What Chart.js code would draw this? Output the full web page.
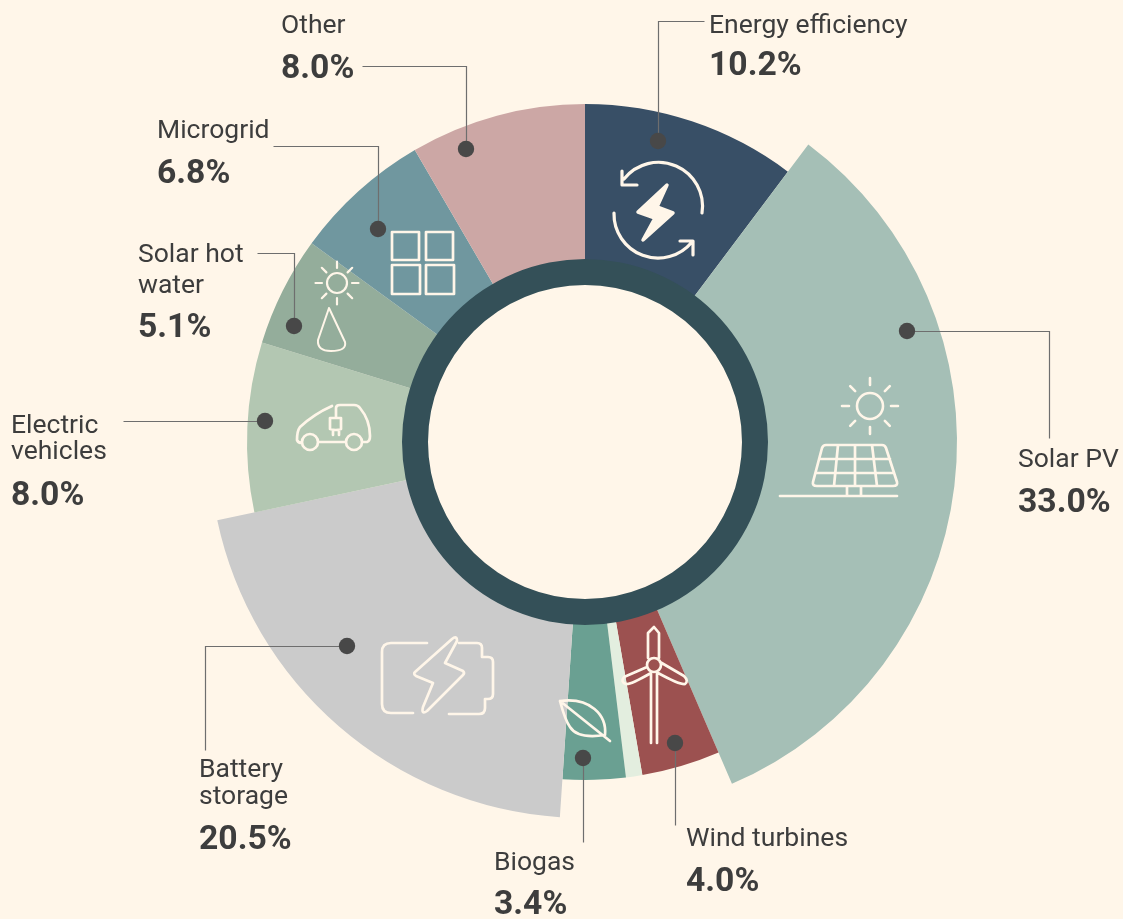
<!DOCTYPE html>
<html>
<head>
<meta charset="utf-8">
<title>Renewable energy share</title>
<script src="https://cdn.jsdelivr.net/npm/chart.js@4"></script>
<style>
  html, body { margin: 0; padding: 0; background: #FFF6E9; }
  #wrap { position: relative; width: 1123px; height: 919px; }
</style>
</head>
<body>
<div id="wrap"><canvas id="myChart" width="1123" height="919"></canvas></div>
<script>
const categories = ['Energy efficiency', 'Solar PV', 'Wind turbines', 'Unlabelled', 'Biogas', 'Battery storage', 'Electric vehicles', 'Solar hot water', 'Microgrid', 'Other']
// the printed percentages
const shares = [10.2, 33.0, 4.0, 1.1, 3.4, 20.5, 8.0, 5.1, 6.8, 8.0]
// slice sizes as measured on the picture, they differ a bit from the printed ones
const sliceSizes = [10.25, 33.3, 3.75, 0.78, 3.0, 20.6, 8.1, 5.25, 6.6, 8.4]
const ringValues = [100]

const colors = ['#384F66', '#A5BFB6', '#9C5150', '#E3EEDF', '#6AA092', '#CBCBCB', '#B3C7B2', '#94AD9B', '#70979F', '#CCA7A5']
const outerRadii = [338, 372, 338, 338, 338, 376, 338, 338, 338, 338]

const cream = '#FFF6E9'
const textColor = '#3D3D3D'

const labelLayout = {
  'Energy efficiency': { x: 709, lines: [['Energy efficiency', 33]], valueY: 75 },
  'Solar PV': { x: 1018, lines: [['Solar PV', 467]], valueY: 512 },
  'Wind turbines': { x: 686, lines: [['Wind turbines', 846]], valueY: 891 },
  'Biogas': { x: 494, lines: [['Biogas', 870]], valueY: 914 },
  'Battery storage': { x: 199, lines: [['Battery', 777], ['storage', 804]], valueY: 849 },
  'Electric vehicles': { x: 11, lines: [['Electric', 433], ['vehicles', 459]], valueY: 505 },
  'Solar hot water': { x: 138, lines: [['Solar hot', 262], ['water', 293]], valueY: 337 },
  'Microgrid': { x: 157, lines: [['Microgrid', 138]], valueY: 183 },
  'Other': { x: 281, lines: [['Other', 33]], valueY: 78 }
}

// leader lines, dot is the first point
const leaders = [
  [[658, 141], [658, 21], [704, 21]],
  [[907, 331], [1049, 331], [1049, 438]],
  [[675, 743], [675, 825]],
  [[583, 758], [583, 842]],
  [[347, 646], [205, 646], [205, 750]],
  [[265, 421], [123, 421]],
  [[294, 326], [294, 253], [257, 253]],
  [[378, 229], [378, 146], [273, 146]],
  [[466, 149], [466, 66], [362, 66]]
]

function circle(cx, cy, r) {
  return `M${cx - r} ${cy}a${r} ${r} 0 1 0 ${2 * r} 0a${r} ${r} 0 1 0 ${-2 * r} 0`
}
function sun(cx, cy, r, r1, r2) {
  let d = circle(cx, cy, r)
  for (let i = 0; i < 8; i++) {
    const a = i * Math.PI / 4
    d += `M${cx + r1 * Math.cos(a)} ${cy + r1 * Math.sin(a)}L${cx + r2 * Math.cos(a)} ${cy + r2 * Math.sin(a)}`
  }
  return d
}

const icons = [
  // energy efficiency
  { w: 3.2, d: 'M624 179A44 44 0 0 1 702 213M622 171V185H637M614 213A44 44 0 0 0 692 242M680 241H693V255' },
  { w: 3.5, fill: true, d: 'M667 185L638 212L655 218L643 240L673 213L657 207Z' },
  // solar pv
  { w: 2.6, d: sun(870, 406, 13, 21, 28) },
  { w: 2.7, d: 'M826 445H882Q885 445 886 448L897 482Q898 486 893 486H817Q812 486 813 482L822 448Q823 445 826 445ZM819 459H890M816 473H894M838 445L834 486M855 445V486M872 445L877 486M847 487V496M861 487V496M780 496H897' },
  // wind turbine
  { w: 2.7, d: circle(654, 665, 7) + 'M651 673V743M657 673V743M648 658V633L654 627L659 633V658M647 667L624 677Q620 682 626 684Q630 685 651 673M660 662L684 676Q689 681 685 684Q680 685 658 673' },
  // biogas leaf
  { w: 2.7, d: 'M560 701C590 697 607 715 605 735C585 738 575 735 570 727C565 720 563 712 560 701ZM560 701L610 741' },
  // battery
  { w: 2.7, d: 'M427 643H391Q382 643 382 652V704Q382 713 391 713H413M459 643H477Q482 643 482 648V657H488Q493 657 493 662V694Q493 699 488 699H485V708Q485 714 479 714H449' },
  { w: 2.7, d: 'M452 639Q457 635 457 641L445 663L463 671Q465 673 463 675L427 711Q421 715 423 707L433 683L416 676Q413 674 415 672Z' },
  // electric vehicle
  { w: 2.7, d: 'M332 406Q314 414 300 427Q297 431 297 440Q298 443 302 443M318 442H346M363 442H367Q370 441 370 436Q370 420 360 408Q358 405 354 405H340Q336 405 336 408V418M330 418H341V429Q336 431 330 429ZM333 431V435M339 431V435' + circle(310, 442, 8) + circle(354, 442, 8) },
  // solar hot water
  { w: 2.2, d: sun(337, 283, 10, 15, 21.5) },
  { w: 2, d: 'M329 308L318 340Q317 351 331 351Q347 351 345 342Z' },
  // microgrid
  { w: 2.7, d: 'M392 232H419V260H392ZM426 232H453V260H426ZM392 265H420V294H392ZM426 265H454V294H426Z' }
]

const sizePlugin = {
  id: 'sizePlugin',
  afterDatasetsUpdate(chart) {
    chart.getDatasetMeta(0).data.forEach((arc, i) => {
      arc.innerRadius = 170
      arc.outerRadius = outerRadii[i]
    })
    chart.getDatasetMeta(1).data.forEach(arc => {
      arc.innerRadius = 157
      arc.outerRadius = 183
    })
  }
}

const notesPlugin = {
  id: 'notesPlugin',
  afterDraw(chart) {
    const ctx = chart.ctx
    ctx.save()
    ctx.lineCap = 'round'
    ctx.lineJoin = 'round'
    icons.forEach(icon => {
      const p = new Path2D(icon.d)
      ctx.strokeStyle = cream
      ctx.lineWidth = icon.w
      ctx.stroke(p)
      if (icon.fill) {
        ctx.fillStyle = cream
        ctx.fill(p)
      }
    })
    ctx.lineCap = 'butt'
    ctx.lineJoin = 'miter'
    leaders.forEach(pts => {
      ctx.beginPath()
      pts.forEach((pt, i) => i ? ctx.lineTo(pt[0] + 0.5, pt[1] + 0.5) : ctx.moveTo(pt[0] + 0.5, pt[1] + 0.5))
      ctx.strokeStyle = '#6E6E6E'
      ctx.lineWidth = 1.2
      ctx.stroke()
      ctx.beginPath()
      ctx.arc(pts[0][0], pts[0][1], 8.2, 0, Math.PI * 2)
      ctx.fillStyle = '#484848'
      ctx.fill()
    })
    ctx.fillStyle = textColor
    ctx.textAlign = 'left'
    ctx.textBaseline = 'alphabetic'
    categories.forEach((name, i) => {
      const l = labelLayout[name]
      if (!l) return
      ctx.font = '400 26.5px Roboto'
      l.lines.forEach(line => ctx.fillText(line[0], l.x, line[1]))
      ctx.font = '700 33.7px Roboto'
      ctx.fillText(shares[i].toFixed(1) + '%', l.x, l.valueY)
    })
    ctx.restore()
  }
}

const canvas = document.getElementById('myChart')
const myChart = new Chart(canvas, {
  type: 'doughnut',
  data: {
    labels: categories,
    datasets: [
      { data: sliceSizes, backgroundColor: colors, borderWidth: 0, order: 2 },
      { data: ringValues, backgroundColor: '#345058', borderWidth: 0, order: 1 }
    ]
  },
  options: {
    responsive: false,
    animation: false,
    layout: { padding: { left: 47, right: 0, top: 0, bottom: 35 } },
    plugins: { legend: { display: false }, tooltip: { enabled: false } }
  },
  plugins: [sizePlugin, notesPlugin]
})
</script>
</body>
</html>
